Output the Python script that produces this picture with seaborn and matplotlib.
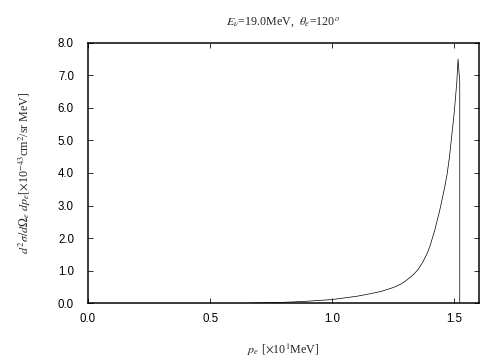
import seaborn as sns
import pandas as pd
import matplotlib
matplotlib.use("Agg")
import matplotlib.pyplot as plt

# electron momentum [x10 MeV] and cross section [1e-43 cm^2/sr MeV]
p_e = [0.67, 0.70, 0.75, 0.80, 0.85, 0.90, 0.95, 1.00, 1.05, 1.10, 1.15,
       1.20, 1.25, 1.28, 1.30, 1.33, 1.35, 1.37, 1.39, 1.40, 1.42, 1.44,
       1.46, 1.47, 1.48, 1.49, 1.50, 1.51, 1.515, 1.522, 1.522]
xsec = [0.0, 0.005, 0.015, 0.025, 0.04, 0.06, 0.085, 0.11, 0.16, 0.21, 0.28,
        0.36, 0.48, 0.58, 0.68, 0.86, 1.02, 1.25, 1.55, 1.75, 2.25, 2.85,
        3.55, 3.95, 4.50, 5.20, 5.90, 6.80, 7.50, 6.80, 0.0]
yticks = [0.0, 1.0, 2.0, 3.0, 4.0, 5.0, 6.0, 7.0, 8.0]
xticks = [0.0, 0.5, 1.0, 1.5]

df = pd.DataFrame({"p_e": p_e, "xsec": xsec})

sns.set_style("ticks")
plt.rcParams["font.family"] = ["Liberation Sans", "DejaVu Sans"]
plt.rcParams["mathtext.fontset"] = "stix"

fig = plt.figure(figsize=(7, 5), dpi=72)
ax = fig.add_axes([0.1746, 0.158, 0.7754, 0.723])

sns.lineplot(data=df, x="p_e", y="xsec", ax=ax, color="black", linewidth=0.7,
             sort=False, estimator=None)

ax.set_xlim(0, 1.6)
ax.set_ylim(0, 8.0)
ax.set_xticks(xticks)
ax.set_xticklabels([f"{v:.1f}" for v in xticks])
ax.set_yticks(yticks)
ax.set_yticklabels([f"{v:.1f}" for v in yticks])
ax.tick_params(direction="in", length=5, width=0.8, top=True, right=True,
               labelsize=11.5, colors="black")
ax.tick_params(axis="x", pad=10)
ax.tick_params(axis="y", pad=14)
for s in ax.spines.values():
    s.set_linewidth(1.5)
    s.set_color("black")

serif = {"family": "Liberation Serif", "size": 12}
ax.set_xlabel(r"$p_e$ [$\times$10$^1$MeV]", fontdict=serif, labelpad=17)
ax.set_ylabel(r"$d^2\sigma/d\Omega_e\ dp_e$[$\times$10$^{-43}$cm$^2$/sr MeV]",
              fontdict=serif, labelpad=25)
ax.set_title(r"$E_\nu$=19.0MeV,  $\theta_e$=120$^o$", fontdict=serif, pad=18)

fig.savefig("out.png", dpi=72)
